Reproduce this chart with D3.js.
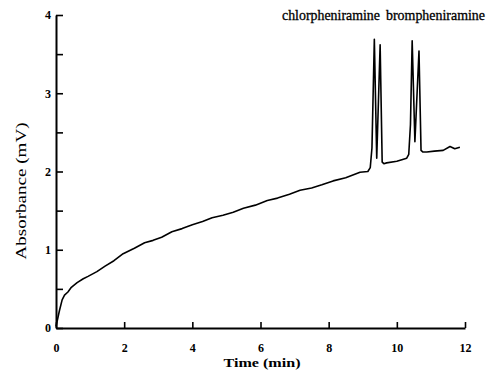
<!DOCTYPE html>
<html>
<head>
<meta charset="utf-8">
<script src="https://cdn.jsdelivr.net/npm/d3@7"></script>
<style>
  body { margin: 0; background: #fff; }
  svg { display: block; }
  .tick text { font-family: "Liberation Serif", "DejaVu Serif", serif; font-weight: bold; font-size: 12px; fill: #000; }
</style>
</head>
<body>
<div id="chart"></div>
<script>
// chromatogram trace
var timeMin = [0, 0.03, 0.06, 0.1, 0.18, 0.25, 0.35, 0.45, 0.62, 0.8,
    0.94, 1.2, 1.44, 1.7, 1.97, 2.3, 2.6, 2.85, 3.1, 3.4,
    3.7, 4.0, 4.3, 4.58, 4.9, 5.2, 5.5, 5.85, 6.2, 6.5,
    6.85, 7.16, 7.5, 7.8, 8.13, 8.5, 8.92, 9.15, 9.22, 9.27,
    9.34, 9.41, 9.51, 9.57, 9.62, 9.70, 10.0, 10.29, 10.35, 10.40,
    10.45, 10.53, 10.65, 10.71, 10.76, 10.88, 11.1, 11.36, 11.56, 11.7,
    11.85];
var absorbance = [0.02, 0.08, 0.14, 0.22, 0.36, 0.42, 0.46, 0.52, 0.58, 0.63,
    0.66, 0.72, 0.79, 0.86, 0.95, 1.02, 1.09, 1.12, 1.16, 1.23,
    1.27, 1.32, 1.36, 1.41, 1.44, 1.48, 1.53, 1.57, 1.63, 1.66,
    1.71, 1.76, 1.79, 1.83, 1.88, 1.92, 1.99, 2.0, 2.05, 2.3,
    3.69, 2.17, 3.62, 2.12, 2.10, 2.11, 2.13, 2.17, 2.22, 2.6,
    3.67, 2.38, 3.54, 2.27, 2.25, 2.25, 2.26, 2.27, 2.32, 2.29,
    2.31];

var xTicks = [0, 2, 4, 6, 8, 10, 12];
var yTicks = [0, 0.5, 1, 1.5, 2, 2.5, 3, 3.5, 4];
var peakNames = ["chlorpheniramine", "brompheniramine"];

var width = 487, height = 376;

var svg = d3.select("#chart").append("svg")
    .attr("width", width)
    .attr("height", height);

var x = d3.scaleLinear().domain([0, 12]).range([56, 465]);
var y = d3.scaleLinear().domain([0, 4]).range([328, 15]);

// y axis, ticks inside
var yAxis = d3.axisLeft(y)
    .tickValues(yTicks)
    .tickSizeInner(-7)
    .tickSizeOuter(0)
    .tickPadding(5)
    .tickFormat(function(d) { return d % 1 === 0 ? d : ""; });

svg.append("g")
    .attr("transform", "translate(" + x(0) + ",0)")
    .call(yAxis)
    .call(function(g) {
        g.select(".domain").attr("stroke-width", 2);
        g.selectAll(".tick line").attr("stroke-width", 1.6);
    });

// x axis, ticks pointing up
var xAxis = d3.axisBottom(x)
    .tickValues(xTicks)
    .tickSizeInner(-6)
    .tickSizeOuter(0)
    .tickPadding(15);

svg.append("g")
    .attr("transform", "translate(0," + y(0) + ")")
    .call(xAxis)
    .call(function(g) {
        g.select(".domain").attr("stroke-width", 2);
        g.selectAll(".tick line").attr("stroke-width", 1.6);
    });

// the trace
var pts = timeMin.map(function(t, i) { return [t, absorbance[i]]; });

var line = d3.line()
    .x(function(d) { return x(d[0]); })
    .y(function(d) { return y(d[1]); });

svg.append("path")
    .datum(pts)
    .attr("fill", "none")
    .attr("stroke", "#000")
    .attr("stroke-width", 1.6)
    .attr("stroke-linejoin", "round")
    .attr("d", line);

// axis titles
svg.append("text")
    .attr("x", 262)
    .attr("y", 367)
    .attr("text-anchor", "middle")
    .attr("textLength", 77)
    .attr("lengthAdjust", "spacingAndGlyphs")
    .style("font-family", "Liberation Serif, serif")
    .style("font-weight", "bold")
    .style("font-size", "13px")
    .text("Time (min)");

svg.append("text")
    .attr("transform", "translate(26,191) rotate(-90)")
    .attr("text-anchor", "middle")
    .attr("textLength", 137)
    .attr("lengthAdjust", "spacingAndGlyphs")
    .style("font-family", "Liberation Serif, serif")
    .style("font-size", "15px")
    .text("Absorbance (mV)");

// peak labels
svg.selectAll(".peakLabel")
    .data(peakNames)
    .enter()
    .append("text")
    .attr("class", "peakLabel")
    .attr("x", function(d, i) { return i == 0 ? 282 : 386; })
    .attr("y", 20)
    .attr("textLength", function(d, i) { return i == 0 ? 98 : 99; })
    .attr("lengthAdjust", "spacingAndGlyphs")
    .style("font-family", "Liberation Serif, serif")
    .style("font-size", "14px")
    .style("stroke", "#000")
    .style("stroke-width", 0.3)
    .text(function(d) { return d; });
</script>
</body>
</html>
